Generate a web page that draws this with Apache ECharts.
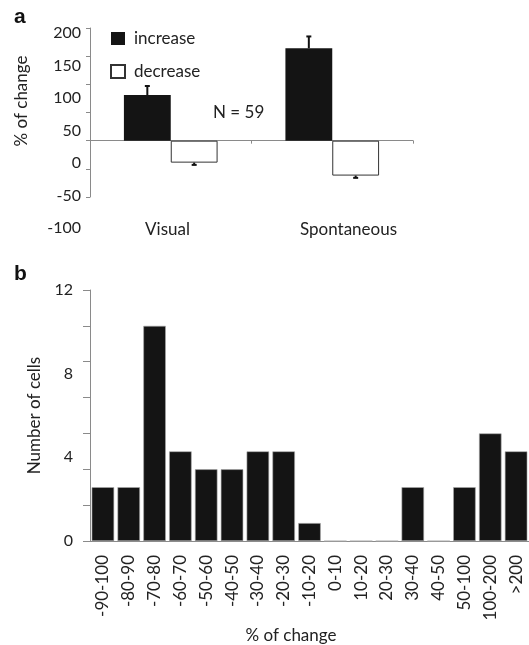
<!DOCTYPE html>
<html><head><meta charset="utf-8">
<script src="https://cdn.jsdelivr.net/npm/echarts@6/dist/echarts.min.js"></script>
<style>html,body{margin:0;padding:0;background:#fff}#c{width:529px;height:645px}</style>
</head><body><div id="c"></div>
<script>
// ---- Panel a data ----
const catsA = ['Visual', 'Spontaneous'];
const increaseVals = [81, 164];
const increaseErrTop = [97, 185];
const decreaseVals = [-39, -62];
const decreaseErrBottom = [-43, -66];
const ticksAMin = -100, ticksAMax = 200, ticksAStep = 50;
const nText = 'N = 59';
// ---- Panel b data ----
const catsB = ['-90-100','-80-90','-70-80','-60-70','-50-60','-40-50','-30-40','-20-30','-10-20','0-10','10-20','20-30','30-40','40-50','50-100','100-200','>200'];
const countsB = [3,3,12,5,4,4,5,5,1,0,0,0,3,0,3,6,5];
const labelBMin = 0, labelBMax = 12, labelBStep = 4;

const FONT = 'Lato';
const AX = '#8a8a8a';
const TXT = '#222';
const chart = echarts.init(document.getElementById('c'));

function errSeries(name, vals, ends, sign) {
  return {
    type: 'custom', name: name, xAxisIndex: 0, yAxisIndex: 0, z: 5,
    data: vals.map((v, i) => [i, v, ends[i]]),
    renderItem: function (params, api) {
      const i = api.value(0);
      const bw = api.size([1, 0])[0];
      const off = sign * bw * 0.58 / 4;
      const p0 = api.coord([i, api.value(1)]);
      const p1 = api.coord([i, api.value(2)]);
      const x = p0[0] + off;
      return {
        type: 'group', children: [
          { type: 'line', shape: { x1: x, y1: p0[1], x2: x, y2: p1[1] }, style: { stroke: '#111', lineWidth: 2 } },
          { type: 'line', shape: { x1: x - 2.5, y1: p1[1], x2: x + 2.5, y2: p1[1] }, style: { stroke: '#111', lineWidth: 2 } }
        ]
      };
    }
  };
}

chart.setOption({
  animation: false,
  textStyle: { fontFamily: FONT },
  grid: [
    { left: 90, top: 28, width: 323, height: 169 },
    { left: 90, top: 33, width: 323, height: 195 },
    { left: 77, top: 33, width: 362, height: 185 },
    { left: 90, top: 290, width: 442, height: 251 }
  ],
  xAxis: [
    { gridIndex: 0, type: 'category', data: catsA,
      axisLine: { onZero: true, lineStyle: { color: AX } },
      axisTick: { show: true, length: 3, lineStyle: { color: AX } },
      axisLabel: { show: false }, splitLine: { show: false } },
    { gridIndex: 1, type: 'category', data: catsA, show: false },
    { gridIndex: 2, type: 'category', data: catsA,
      axisLine: { show: false }, axisTick: { show: false }, splitLine: { show: false },
      axisLabel: { margin: 3, fontSize: 17, color: TXT, fontFamily: FONT } },
    { gridIndex: 3, type: 'category', data: catsB,
      axisLine: { lineStyle: { color: AX } },
      axisTick: { length: 7, lineStyle: { color: AX } },
      axisLabel: { rotate: 90, margin: 14, fontSize: 17, color: TXT, fontFamily: FONT, interval: 0 } }
  ],
  yAxis: [
    { gridIndex: 0, type: 'value', min: ticksAMin, max: ticksAMax, interval: ticksAStep,
      axisLine: { show: true, lineStyle: { color: AX } },
      axisTick: { show: true, length: 4, lineStyle: { color: AX } },
      axisLabel: { show: false }, splitLine: { show: false } },
    { gridIndex: 1, type: 'value', min: ticksAMin, max: ticksAMax, interval: ticksAStep,
      axisLine: { show: false }, axisTick: { show: false }, splitLine: { show: false },
      axisLabel: { margin: 9, fontSize: 16, color: TXT, fontFamily: FONT } },
    { gridIndex: 2, type: 'value', min: 0, max: 1, show: false },
    { gridIndex: 3, type: 'value', min: 0, max: 14, interval: 2,
      axisLine: { show: true, lineStyle: { color: AX } },
      axisTick: { show: true, length: 7, lineStyle: { color: AX } },
      axisLabel: { show: false }, splitLine: { show: false } },
    { gridIndex: 3, type: 'value', min: labelBMin, max: labelBMax, interval: labelBStep, position: 'left',
      axisLine: { show: false }, axisTick: { show: false }, splitLine: { show: false },
      axisLabel: { margin: 17, fontSize: 16, color: TXT, fontFamily: FONT },
      name: 'Number of cells', nameLocation: 'middle', nameGap: 47,
      nameTextStyle: { fontSize: 17, color: TXT, fontFamily: FONT } }
  ],
  legend: {
    orient: 'vertical', left: 105, top: 25, itemWidth: 14, itemHeight: 13, itemGap: 16,
    textStyle: { fontSize: 17, color: TXT, fontFamily: FONT, padding: [0, 0, 0, 4] },
    data: [{ name: 'increase', icon: 'rect' }, { name: 'decrease', icon: 'rect' }]
  },
  series: [
    { type: 'bar', name: 'increase', xAxisIndex: 0, yAxisIndex: 0, data: increaseVals,
      barGap: '0%', barCategoryGap: '42%', itemStyle: { color: '#141414' } },
    { type: 'bar', name: 'decrease', xAxisIndex: 0, yAxisIndex: 0, data: decreaseVals,
      barGap: '0%', barCategoryGap: '42%', itemStyle: { color: '#ffffff', borderColor: '#333', borderWidth: 1 } },
    errSeries('incErr', increaseVals, increaseErrTop, -1),
    errSeries('decErr', decreaseVals, decreaseErrBottom, 1),
    { type: 'bar', name: 'cells', xAxisIndex: 3, yAxisIndex: 3, data: countsB,
      barCategoryGap: '13%', itemStyle: { color: '#141414', borderColor: '#aaa', borderWidth: 0.6 } }
  ],
  graphic: [
    { type: 'text', left: 14, top: 7, style: { text: 'a', font: 'bold 21px Liberation Sans', fill: '#111' } },
    { type: 'text', left: 14, top: 264, style: { text: 'b', font: 'bold 21px Liberation Sans', fill: '#111' } },
    { type: 'text', x: 22, y: 101, rotation: Math.PI / 2,
      style: { text: '% of change', font: '17px ' + FONT, fill: TXT, align: 'center', verticalAlign: 'middle' } },
    { type: 'text', x: 213, y: 113,
      style: { text: nText, font: '17px ' + FONT, fill: TXT, align: 'left', verticalAlign: 'middle' } },
    { type: 'text', x: 291, y: 636,
      style: { text: '% of change', font: '17px ' + FONT, fill: TXT, align: 'center', verticalAlign: 'middle' } }
  ]
});
</script></body></html>
